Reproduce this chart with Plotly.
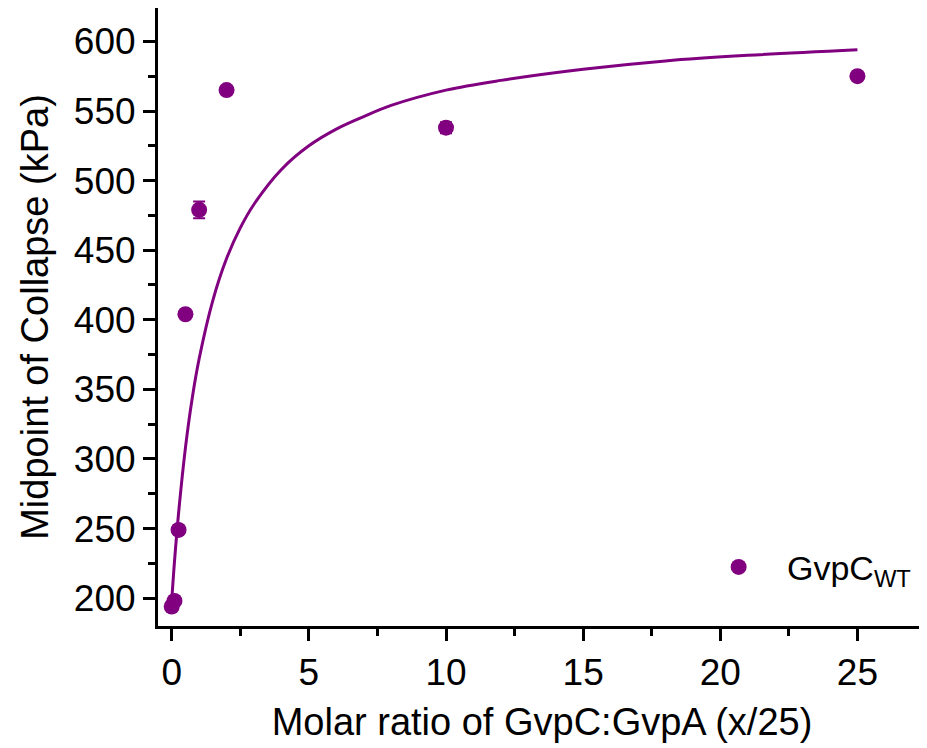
import plotly.graph_objects as go

# Measured data points
ratio_x = [0, 0.1, 0.25, 0.5, 1, 2, 10, 25]
collapse_y = [194, 198, 249, 404, 479, 565, 538, 575]
collapse_err = [1, 1, 2, 2, 6, 3, 4, 2]

# Fitted curve
fit_x = [0, 0.1, 0.25, 0.5, 0.75, 1, 1.5, 2, 2.5, 3, 4, 5, 6, 7, 8, 10, 12, 15, 18, 21, 25]
fit_y = [198, 226, 261, 308, 344, 372, 414, 444, 466, 483, 508, 525, 537, 546, 554, 565, 572, 580, 586, 590, 594]

x_ticks = [0, 5, 10, 15, 20, 25]
y_ticks = [200, 250, 300, 350, 400, 450, 500, 550, 600]

purple = "#800080"
font_family = "Liberation Sans, Arial, sans-serif"

fig = go.Figure()
fig.add_trace(go.Scatter(
    x=fit_x, y=fit_y, mode="lines",
    line=dict(color=purple, width=3, shape="spline"),
    showlegend=False, hoverinfo="skip",
))
fig.add_trace(go.Scatter(
    x=ratio_x, y=collapse_y, mode="markers",
    marker=dict(color=purple, size=16),
    error_y=dict(type="data", array=collapse_err, color=purple, thickness=2, width=6),
    name="\u00a0\u00a0\u00a0GvpC<sub>WT</sub>",
))

axis_common = dict(
    showline=True, linecolor="black", linewidth=3,
    ticks="outside", ticklen=12, tickwidth=3, tickcolor="black",
    showgrid=False, zeroline=False, automargin=False,
    tickfont=dict(family=font_family, size=37, color="black"),
)

# note: the page body has an 8px default margin, so the figure is offset by 8px
fig.update_layout(
    width=927, height=748,
    margin=dict(l=150, r=9, t=0, b=130),
    paper_bgcolor="white", plot_bgcolor="white",
    font=dict(family=font_family, color="black"),
    xaxis=dict(
        range=[-0.5, 27.5], tickvals=x_ticks,
        minor=dict(dtick=2.5, tick0=0, ticks="outside", ticklen=7, tickwidth=3, tickcolor="black"),
        title=dict(text="Molar ratio of GvpC:GvpA (x/25)", font=dict(family=font_family, size=38, color="black"), standoff=16),
        **axis_common,
    ),
    yaxis=dict(
        range=[180, 624], tickvals=y_ticks,
        minor=dict(dtick=25, tick0=200, ticks="outside", ticklen=7, tickwidth=3, tickcolor="black"),
        title=dict(text="Midpoint of Collapse (kPa)", font=dict(family=font_family, size=38, color="black"), standoff=14),
        **axis_common,
    ),
    legend=dict(
        x=0.73, y=0.095, xanchor="left", yanchor="middle",
        font=dict(family=font_family, size=34, color="black"),
        bgcolor="rgba(0,0,0,0)",
    ),
    showlegend=True,
)

fig.write_html("out.html")
